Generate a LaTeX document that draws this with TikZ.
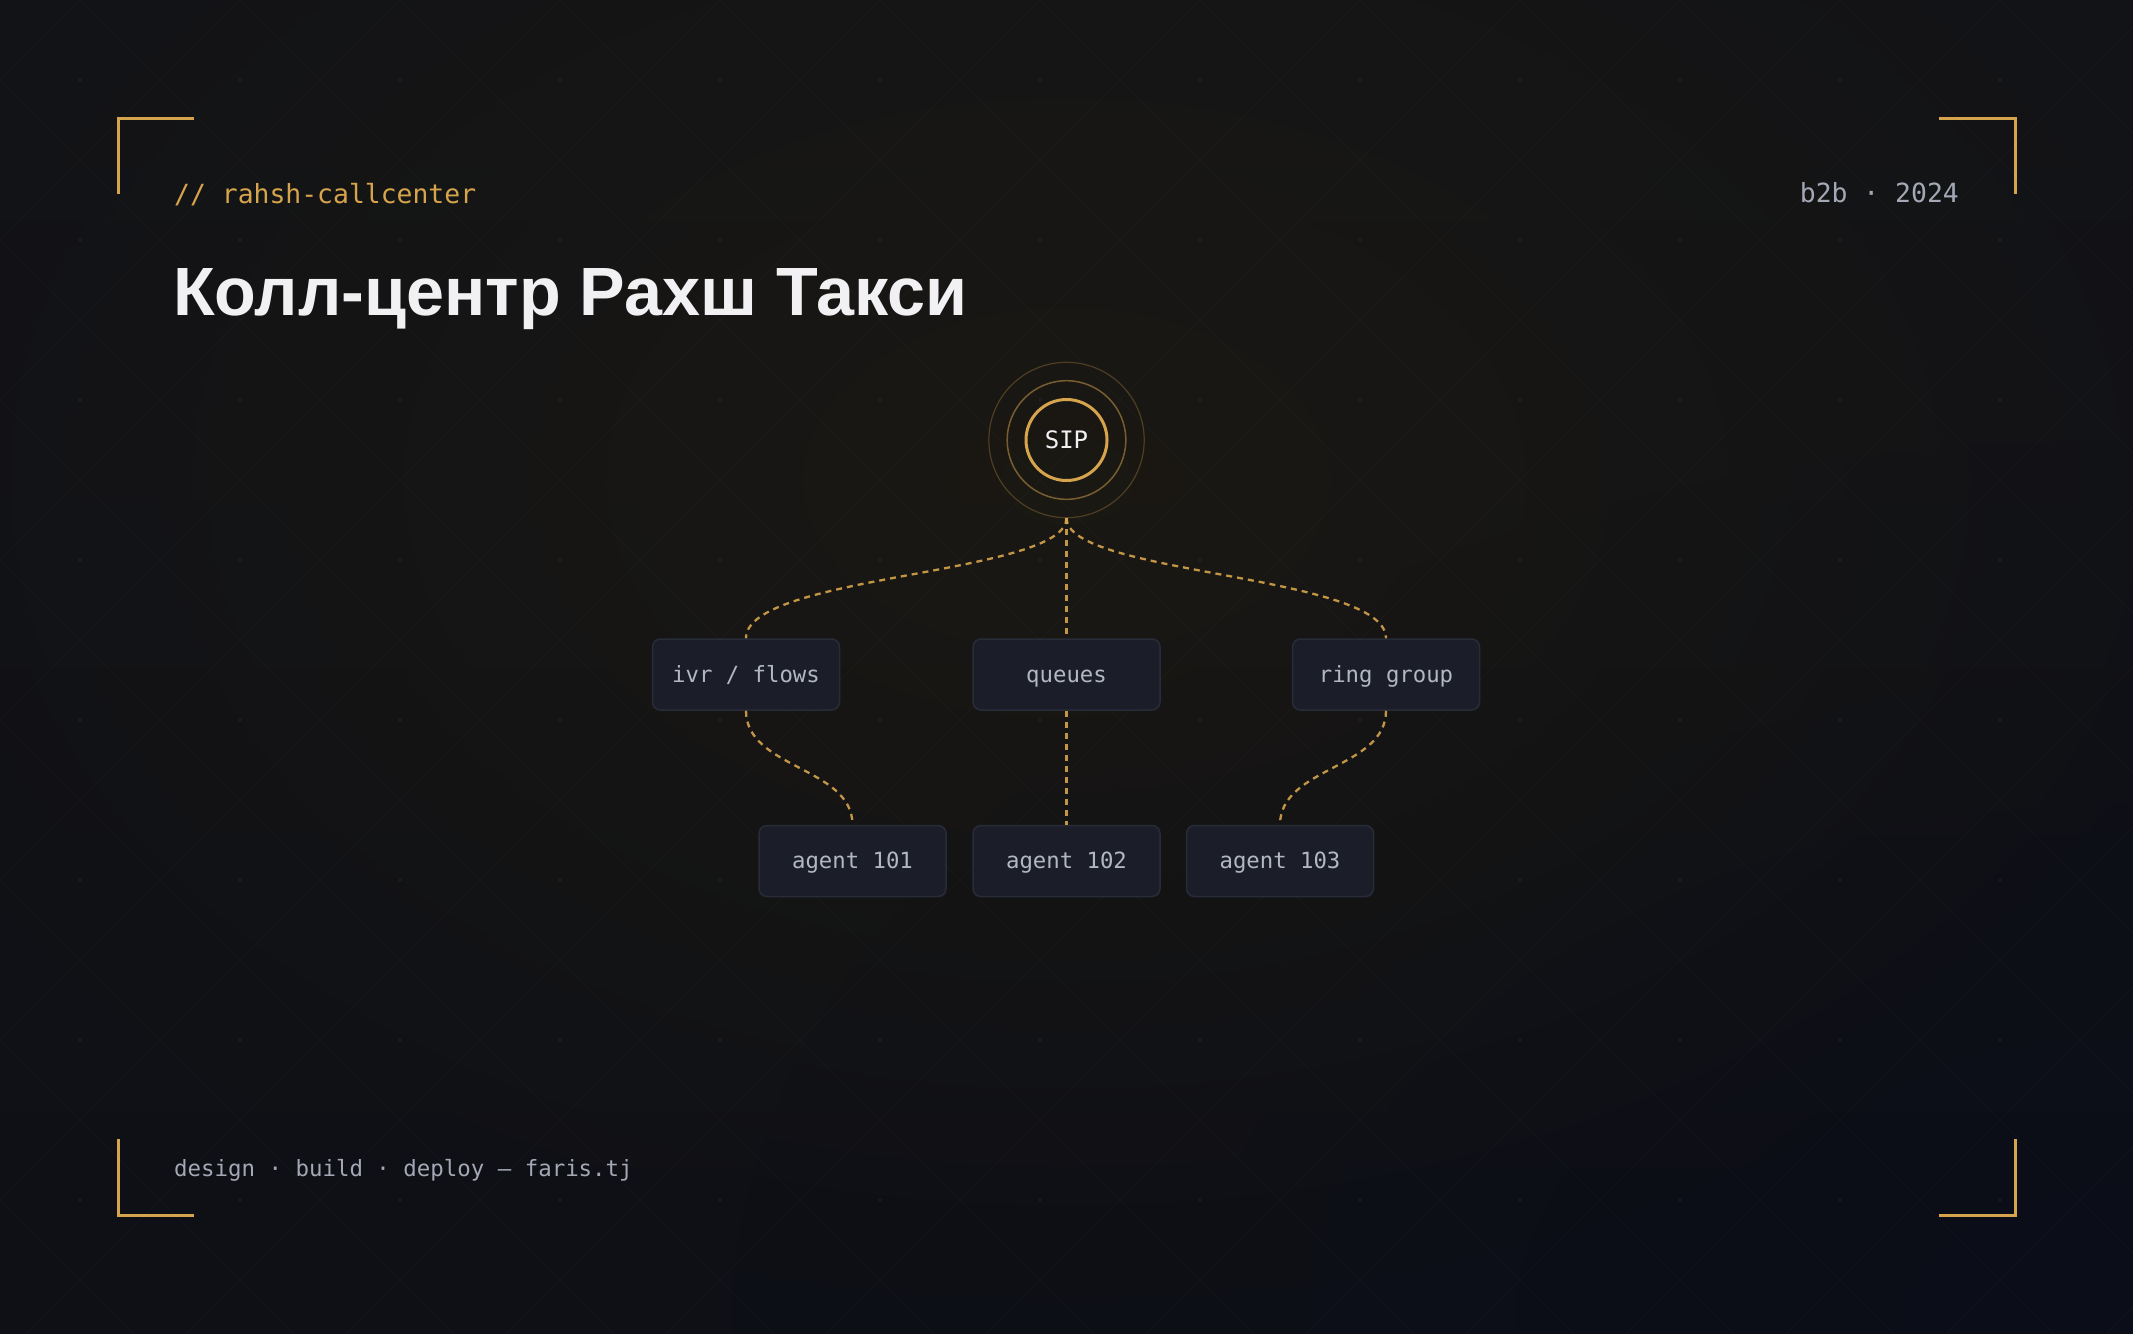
\documentclass[tikz,border=0pt]{standalone}
\usepackage{fontspec}
\setmainfont{Liberation Sans}
\newfontfamily\monofont{DejaVu Sans Mono}
\newfontfamily\titlefont{Liberation Sans}
\usetikzlibrary{fadings}
\definecolor{bgtop}{HTML}{121317}
\definecolor{bgbot}{HTML}{0E1016}
\definecolor{glowc}{HTML}{1F1B12}
\definecolor{bluec}{HTML}{0A0D1A}
\definecolor{gold}{HTML}{D6A44C}
\definecolor{boxfill}{HTML}{1B1E29}
\definecolor{boxline}{HTML}{282C39}
\definecolor{boxtext}{HTML}{B3B7C3}
\definecolor{graytext}{HTML}{A4A8B4}
\definecolor{titlec}{HTML}{F1F1F3}
\tikzfading[name=glowfade, inner color=transparent!0, outer color=transparent!100]
\begin{document}
\begin{tikzpicture}[x=1pt,y=-1pt,
  bracket/.style={draw=gold, line width=3pt, line join=miter},
  boxnode/.style={rectangle, rounded corners=8pt, fill=boxfill, draw=boxline, line width=1.5pt,
    minimum width=187pt, minimum height=71pt, inner sep=0pt, text=boxtext,
    font=\monofont\fontsize{22.3}{26}\selectfont, text height=16pt, text depth=1pt},
  conn/.style={draw=gold, line width=2.3pt, dash pattern=on 6pt off 5pt, opacity=0.9},
  monotext/.style={font=\monofont\fontsize{26.4}{30}\selectfont, inner sep=0pt}
]
\useasboundingbox (0,0) rectangle (2133,1333);
\begin{scope}
\clip (0,0) rectangle (2133,1333);
\shade[top color=bgtop, bottom color=bgbot] (0,0) rectangle (2133,1333);
\fill[bluec, path fading=glowfade, opacity=0.6] (2133,1333) ellipse (1400 and 900);
\fill[glowc, path fading=glowfade, opacity=0.7] (1066,480) ellipse (1250 and 820);
% faint diagonal grid
\foreach \k in {-10,...,22} {
  \draw[white, opacity=0.022, line width=1pt] (80+160*\k,0) -- ++(-1500,1500);
  \draw[white, opacity=0.022, line width=1pt] (80+160*\k,0) -- ++(1500,1500);
}
\foreach \i in {0,...,13} {
  \foreach \j in {0,...,8} {
    \fill[white, opacity=0.05] (80+160*\i,80+160*\j) circle (1.8);
  }
}
\end{scope}

% corner brackets
\draw[bracket] (118,194) -- (118,118) -- (194,118);
\draw[bracket] (1939,118) -- (2015,118) -- (2015,194);
\draw[bracket] (118,1139) -- (118,1215) -- (194,1215);
\draw[bracket] (1939,1215) -- (2015,1215) -- (2015,1139);

% header texts
\node[monotext, anchor=base west, text=gold] (tag) at (174,203) {// rahsh-callcenter};
\node[monotext, anchor=base east, text=graytext] (year) at (1959,202) {b2b · 2024};
\node[anchor=base west, inner sep=0pt, text=titlec, font=\titlefont\bfseries\fontsize{68.3}{80}\selectfont] (title) at (173,315) {Колл-центр Рахш Такси};
\node[anchor=base west, inner sep=0pt, text=graytext, font=\monofont\fontsize{22.4}{26}\selectfont] (foot) at (174,1176) {design · build · deploy — faris.tj};

% SIP hub
\draw[gold, opacity=0.28, line width=1.2pt] (1066.5,440) circle (77.7);
\draw[gold, opacity=0.5, line width=1.5pt] (1066.5,440) circle (59.3);
\node[circle, draw=gold, line width=3pt, minimum size=81pt, inner sep=0pt, text=titlec,
  font=\monofont\fontsize{24}{28}\selectfont] (sip) at (1066.5,440) {SIP};
\coordinate (hub) at (1066.5,518);

% boxes
\node[boxnode] (ivr) at (746,674.5) {ivr / flows};
\node[boxnode] (queues) at (1066.5,674.5) {queues};
\node[boxnode] (ring) at (1386,674.5) {ring group};
\node[boxnode] (a101) at (852.5,861) {agent 101};
\node[boxnode] (a102) at (1066.5,861) {agent 102};
\node[boxnode] (a103) at (1280,861) {agent 103};

% connectors
\draw[conn] (hub) .. controls +(0,57) and +(0,-64) .. (ivr.north);
\draw[conn] (hub) -- (queues.north);
\draw[conn] (hub) .. controls +(0,57) and +(0,-64) .. (ring.north);
\draw[conn] (ivr.south) .. controls +(0,58) and +(0,-58) .. (a101.north);
\draw[conn] (queues.south) -- (a102.north);
\draw[conn] (ring.south) .. controls +(0,58) and +(0,-58) .. (a103.north);
\end{tikzpicture}
\end{document}
